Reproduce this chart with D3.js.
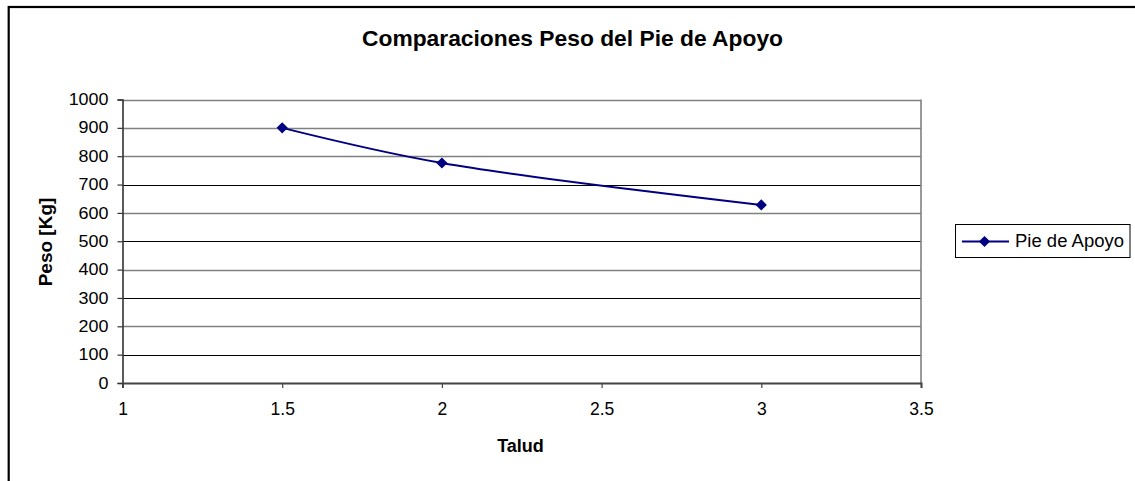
<!DOCTYPE html>
<html><head><meta charset="utf-8">
<script src="https://cdn.jsdelivr.net/npm/d3@7"></script>
<style>body{margin:0;background:#fff}svg{display:block;font-family:"Liberation Sans",Arial,sans-serif}</style>
</head><body>
<svg id="c" width="1135" height="481"></svg>
<script>
const title = "Comparaciones Peso del Pie de Apoyo";
const seriesName = "Pie de Apoyo";
const taludValues = [1.5, 2, 3];
const pesoValues = [900, 776, 628];
const xTicks = [1, 1.5, 2, 2.5, 3, 3.5];
const yTicks = [0, 100, 200, 300, 400, 500, 600, 700, 800, 900, 1000];
const xLabel = "Talud";
const yLabel = "Peso [Kg]";

const svg = d3.select("#c");
const L = 122.5, R = 921, T = 99.5, B = 383;
const x = d3.scaleLinear().domain([1, 3.5]).range([L, R]);
const y = d3.scaleLinear().domain([0, 1000]).range([B, T]);
const FF = "Liberation Sans, Arial, sans-serif";

// outer frame
svg.append("rect").attr("x", 8.7).attr("y", 7).attr("width", 1200).attr("height", 600)
  .attr("fill", "none").attr("stroke", "#000").attr("stroke-width", 2.2);

// title
svg.append("text").attr("x", 362).attr("y", 46)
  .attr("font-weight", "bold").attr("font-size", 21.5)
  .attr("textLength", 421).attr("lengthAdjust", "spacingAndGlyphs").text(title);

// gridlines
const darkLines = new Set([100, 300, 500, 700]);
svg.append("g").selectAll("line").data(yTicks.filter(d => d > 0)).join("line")
  .attr("x1", L).attr("x2", R).attr("y1", d => Math.round(y(d)) + 0.5).attr("y2", d => Math.round(y(d)) + 0.5)
  .attr("stroke", d => darkLines.has(d) ? "#000" : "#808080")
  .attr("stroke-width", d => darkLines.has(d) ? 1 : 1.6);

// right border of plot
svg.append("line").attr("x1", R).attr("x2", R).attr("y1", T).attr("y2", B)
  .attr("stroke", "#808080").attr("stroke-width", 1.6);

// axes
const yAxis = d3.axisLeft(y).tickValues(yTicks).tickSize(5).tickPadding(9).tickFormat(d3.format("d"));
const gy = svg.append("g").attr("transform", `translate(${L},0)`).call(yAxis);
gy.attr("font-size", null).attr("font-family", null);
gy.select(".domain").attr("stroke", "#333").attr("stroke-width", 1.6);
gy.selectAll(".tick line").attr("stroke", "#333").attr("stroke-width", 1.2);
gy.selectAll("text").attr("font-size", 16).attr("fill", "#000").attr("font-family", FF)
  .each(function() { this.setAttribute("textLength", this.getComputedTextLength() * 1.12); this.setAttribute("lengthAdjust", "spacingAndGlyphs"); });

const xAxis = d3.axisBottom(x).tickValues(xTicks).tickSize(5).tickPadding(15).tickFormat(d => String(d));
const gx = svg.append("g").attr("transform", `translate(0,${B})`).call(xAxis);
gx.attr("font-size", null).attr("font-family", null);
gx.select(".domain").attr("stroke", "#444").attr("stroke-width", 2);
gx.selectAll(".tick line").attr("stroke", "#444").attr("stroke-width", 1.2);
gx.selectAll("text").attr("font-size", 17.5).attr("fill", "#000").attr("font-family", FF);

// axis labels
svg.append("text").attr("x", 520.5).attr("y", 452).attr("text-anchor", "middle")
  .attr("font-weight", "bold").attr("font-size", 18).text(xLabel);
svg.append("text").attr("transform", "translate(52,242) rotate(-90)").attr("text-anchor", "middle")
  .attr("font-weight", "bold").attr("font-size", 19).text(yLabel);

// series
const data = taludValues.map((t, i) => ({t, p: pesoValues[i]}));
const line = d3.line().x(d => x(d.t)).y(d => y(d.p)).curve(d3.curveCatmullRom);
svg.append("path").datum(data).attr("d", line).attr("fill", "none")
  .attr("stroke", "#000080").attr("stroke-width", 2);
const diamond = d3.symbol().type(d3.symbolDiamond2).size(80);
svg.append("g").selectAll("path").data(data).join("path")
  .attr("transform", d => `translate(${x(d.t)},${y(d.p)})`).attr("d", diamond).attr("fill", "#000080");

// legend
const lg = svg.append("g");
lg.append("rect").attr("x", 955.5).attr("y", 224.5).attr("width", 174.5).attr("height", 33)
  .attr("fill", "#fff").attr("stroke", "#000").attr("stroke-width", 1);
lg.append("line").attr("x1", 962).attr("x2", 1009).attr("y1", 241.5).attr("y2", 241.5)
  .attr("stroke", "#000080").attr("stroke-width", 2);
lg.append("path").attr("transform", "translate(984.5,241.5)").attr("d", diamond).attr("fill", "#000080");
lg.append("text").attr("x", 1015).attr("y", 247).attr("font-size", 17.5)
  .attr("textLength", 109).attr("lengthAdjust", "spacingAndGlyphs").text(seriesName);
</script>
</body></html>
